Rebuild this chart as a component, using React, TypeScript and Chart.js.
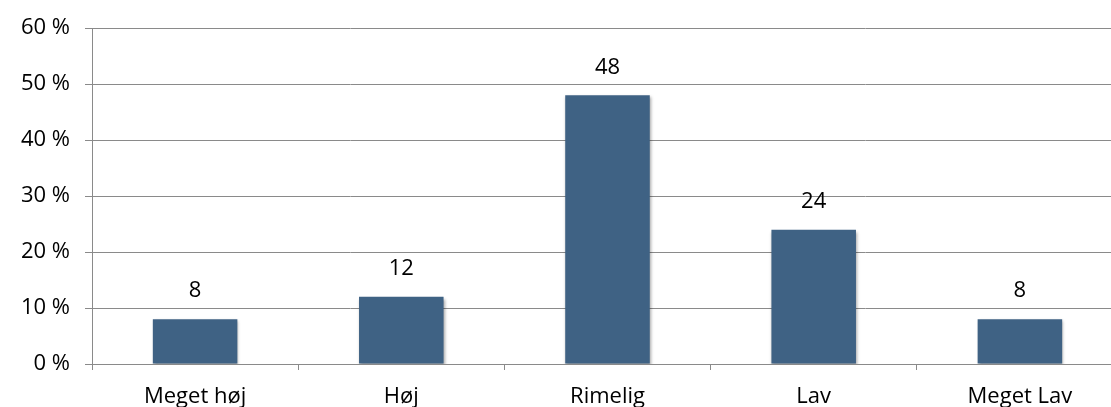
import React, { useEffect, useRef } from "react";
import { Chart, registerables } from "chart.js";

Chart.register(...registerables);

const categories = ["Meget høj", "Høj", "Rimelig", "Lav", "Meget Lav"];
const values = [8, 12, 48, 24, 8];
const valueLabels = ["8", "12", "48", "24", "8"];

const FONT = "'Open Sans', 'Noto Sans', sans-serif";

const labelPlugin = {
  id: "barLabels",
  afterDatasetsDraw(chart: any) {
    const ctx = chart.ctx;
    const meta = chart.getDatasetMeta(0);
    ctx.save();
    ctx.font = `22px ${FONT}`;
    ctx.fillStyle = "#000";
    ctx.textAlign = "center";
    ctx.textBaseline = "middle";
    meta.data.forEach((el: any, i: number) => {
      ctx.fillText(valueLabels[i], el.x, el.y - 28);
    });
    ctx.restore();
  },
};

const shadowPlugin = {
  id: "barShadow",
  beforeDatasetsDraw(chart: any) {
    const ctx = chart.ctx;
    ctx.save();
    ctx.shadowColor = "rgba(0,0,0,0.35)";
    ctx.shadowBlur = 3;
    ctx.shadowOffsetX = 1;
    ctx.shadowOffsetY = 2;
  },
  afterDatasetsDraw(chart: any) {
    chart.ctx.restore();
  },
};

export default function App() {
  const ref = useRef<HTMLCanvasElement>(null);
  useEffect(() => {
    if (!ref.current) return;
    const chart = new Chart(ref.current, {
      type: "bar",
      data: {
        labels: categories,
        datasets: [
          {
            data: values,
            backgroundColor: "#3F6284",
            categoryPercentage: 0.41,
            barPercentage: 1,
          },
        ],
      },
      options: {
        animation: false,
        responsive: false,
        maintainAspectRatio: false,
        layout: { padding: { top: 25, left: 0, right: 0, bottom: 0 } },
        plugins: { legend: { display: false }, tooltip: { enabled: false } },
        scales: {
          x: {
            afterFit: (s: any) => {
              s.height = 43;
            },
            grid: {
              offset: true,
              drawOnChartArea: false,
              drawTicks: true,
              tickLength: 6,
              color: "#8a8a8a",
            },
            border: { display: true, color: "#8a8a8a" },
            ticks: {
              color: "#000",
              font: { family: FONT, size: 22 },
              padding: 14,
              maxRotation: 0,
            },
          },
          y: {
            min: 0,
            max: 60,
            afterFit: (s: any) => {
              s.width = 92;
            },
            grid: {
              color: "#8a8a8a",
              tickLength: 7,
            },
            border: { display: true, color: "#8a8a8a" },
            ticks: {
              stepSize: 10,
              color: "#000",
              font: { family: FONT, size: 22 },
              padding: 15,
              callback: (v: any) => `${v} %`,
            },
          },
        },
      },
      plugins: [shadowPlugin, labelPlugin],
    });
    return () => chart.destroy();
  }, []);
  return (
    <div
      style={{
        position: "fixed",
        left: 0,
        top: 0,
        width: 1111,
        height: 407,
        overflow: "hidden",
        background: "#fff",
      }}
    >
      <canvas ref={ref} width={1123} height={407} style={{ display: "block" }} />
    </div>
  );
}
